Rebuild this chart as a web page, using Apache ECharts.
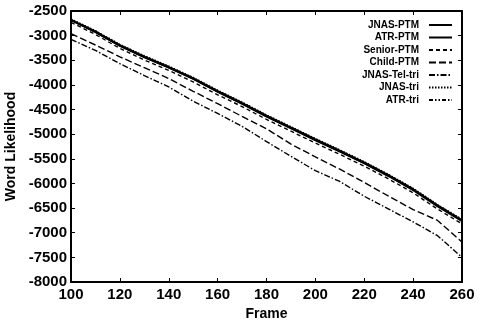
<!DOCTYPE html>
<html><head><meta charset="utf-8">
<script src="https://cdn.jsdelivr.net/npm/echarts@6/dist/echarts.min.js"></script>
<style>html,body{margin:0;padding:0;background:#fff}#c{width:484px;height:324px}</style>
</head><body><div id="c"></div>
<script>
var frames = [100,110,120,130,140,150,160,170,180,190,200,210,220,230,240,250,260];
var jnasPTM  = [-2680,-2920,-3200,-3430,-3640,-3870,-4130,-4370,-4630,-4870,-5110,-5340,-5580,-5840,-6120,-6450,-6750];
var atrPTM   = [-2690,-2935,-3215,-3445,-3655,-3885,-4145,-4390,-4650,-4890,-5130,-5360,-5600,-5860,-6140,-6470,-6770];
var seniorPTM= [-2730,-2975,-3260,-3495,-3705,-3940,-4200,-4440,-4700,-4940,-5180,-5410,-5650,-5910,-6190,-6520,-6820];
var childPTM = [-2960,-3190,-3430,-3650,-3870,-4130,-4380,-4640,-4890,-5200,-5460,-5710,-5980,-6260,-6530,-6750,-7190];
var jnasTelTri=[-3075,-3300,-3570,-3810,-4040,-4330,-4580,-4840,-5150,-5450,-5740,-5960,-6260,-6520,-6780,-7060,-7500];
var jnasTri  = [-2665,-2900,-3180,-3410,-3620,-3850,-4110,-4350,-4610,-4850,-5090,-5320,-5560,-5820,-6100,-6430,-6730];
var atrTri   = [-2675,-2910,-3190,-3420,-3630,-3860,-4120,-4360,-4620,-4860,-5100,-5330,-5570,-5830,-6110,-6440,-6740];
var names = ['JNAS-PTM','ATR-PTM','Senior-PTM','Child-PTM','JNAS-Tel-tri','JNAS-tri','ATR-tri'];
var values = [jnasPTM, atrPTM, seniorPTM, childPTM, jnasTelTri, jnasTri, atrTri];
var styles = [
  {width:2.2, type:'solid'},
  {width:1.3, type:'solid'},
  {width:1.4, type:[4,3]},
  {width:1.4, type:[7,3]},
  {width:1.4, type:[6,2,1.5,2]},
  {width:1.6, type:[1.5,1.5]},
  {width:1.4, type:[4,2,1.5,2,1.5,2]}
];
var font = 'Liberation Sans';
var chart = echarts.init(document.getElementById('c'));
var series = names.map(function(n,i){
  return {name:n, type:'line', symbol:'none', xAxisIndex:0, yAxisIndex:0,
    lineStyle:{color:'#000', width:styles[i].width, type:styles[i].type},
    itemStyle:{color:'#000'},
    data: frames.map(function(f,j){return [f, values[i][j]];})};
});
var axLine = {show:true, lineStyle:{color:'#000', width:2}};
chart.setOption({
  animation:false,
  backgroundColor:'#fff',
  grid:{left:71, right:22, top:11, bottom:42, containLabel:false, outerBoundsMode:'none'},
  legend:{orient:'vertical', right:26, top:15, align:'right', itemGap:2.5, itemWidth:23, itemHeight:10,
    data:names,
    itemStyle:{color:'rgba(0,0,0,0)', borderColor:'rgba(0,0,0,0)', borderWidth:0},
    formatter:function(n){return '{a|'+n+'}';},
    textStyle:{color:'#000', fontFamily:font, fontWeight:'bold', fontSize:10,
      rich:{a:{width:90, align:'right', padding:[0,5,0,0], fontFamily:font, fontWeight:'bold', fontSize:10, color:'#000'}}}},
  xAxis:[
    {type:'value', min:100, max:260, interval:20, name:'Frame', nameLocation:'middle', nameGap:25,
     nameTextStyle:{color:'#000', fontFamily:font, fontWeight:'bold', fontSize:14},
     axisLine:axLine, axisTick:{show:true, inside:true, length:4, lineStyle:{color:'#000'}},
     axisLabel:{color:'#000', fontFamily:font, fontWeight:'bold', fontSize:15, margin:5},
     splitLine:{show:false}},
    {type:'value', position:'top', min:100, max:260, interval:20,
     axisLine:axLine, axisTick:{show:true, inside:true, length:4, lineStyle:{color:'#000'}},
     axisLabel:{show:false}, splitLine:{show:false}}
  ],
  yAxis:[
    {type:'value', min:-8000, max:-2500, interval:500, name:'Word Likelihood', nameLocation:'middle', nameGap:47,
     nameTextStyle:{color:'#000', fontFamily:font, fontWeight:'bold', fontSize:14},
     axisLine:axLine, axisTick:{show:true, inside:true, length:4, lineStyle:{color:'#000'}},
     axisLabel:{color:'#000', fontFamily:font, fontWeight:'bold', fontSize:15, margin:4,
       formatter:function(v){return String(v);}},
     splitLine:{show:false}},
    {type:'value', position:'right', min:-8000, max:-2500, interval:500,
     axisLine:axLine, axisTick:{show:true, inside:true, length:4, lineStyle:{color:'#000'}},
     axisLabel:{show:false}, splitLine:{show:false}}
  ],
  series:series
});
</script></body></html>
